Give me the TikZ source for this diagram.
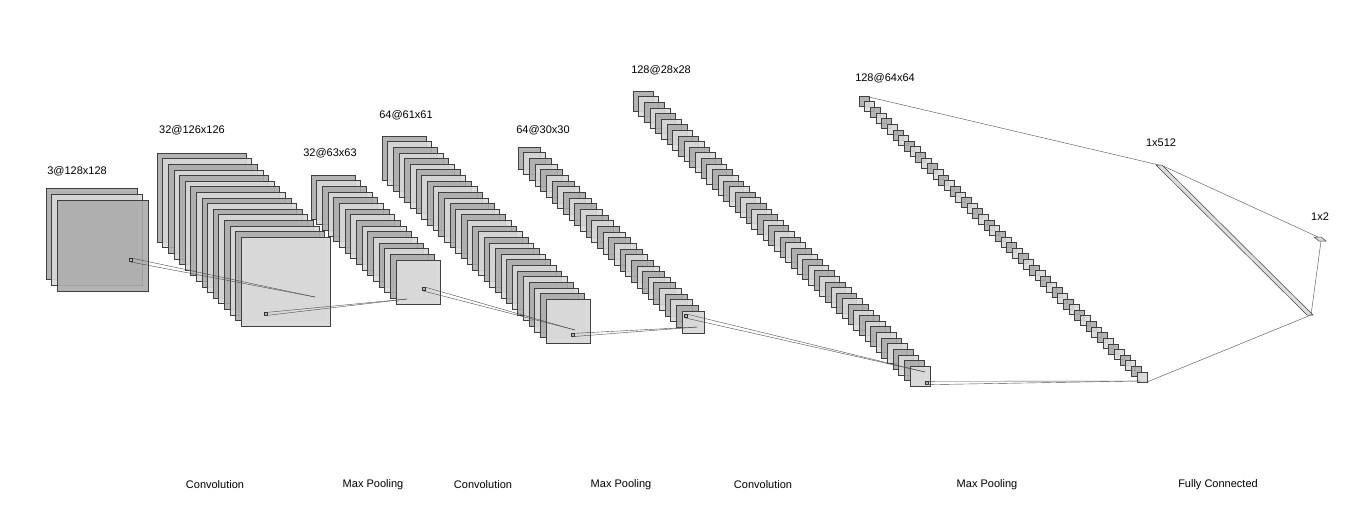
\documentclass[tikz,border=0pt]{standalone}
\usepackage{fontspec}
\setmainfont{Liberation Sans}
\begin{document}
\begin{tikzpicture}[x=1pt,y=-1pt,
  s0/.style={draw=black!75,line width=0.5pt,fill=black!33,fill opacity=0.9},
  s1/.style={draw=black!75,line width=0.5pt,fill=black!15,fill opacity=0.9},
  front/.style={draw=black!75,line width=0.5pt,fill=black!15,fill opacity=0.8},
  lab/.style={font=\fontsize{11}{13}\selectfont,inner sep=0pt},
  kern/.style={draw=black!80,line width=0.4pt,fill=black!30,minimum size=3pt,inner sep=0pt},
  conn/.style={draw=black!70,line width=0.4pt}]
\useasboundingbox (0,0) rectangle (1358,507);
% stack: x0 y0 x1 y1 n size
\newcommand\cnnstack[6]{%
  \foreach \i in {0,...,\numexpr#5-1\relax}{%
    \pgfmathtruncatemacro\c{mod(\i,2)}%
    \pgfmathsetmacro\xx{#1+\i*(#3-#1)/(#5-1)}%
    \pgfmathsetmacro\yy{#2+\i*(#4-#2)/(#5-1)}%
    \path[s\c] (\xx,\yy) rectangle ++(#6,#6);
  }}
\cnnstack{46}{188}{57}{200}{3}{91}
\cnnstack{157}{153}{241}{237}{16}{89}
\path[front] (241,237) rectangle ++(89,89);
\cnnstack{311}{175}{396}{260}{16}{44}
\path[front] (396,260) rectangle ++(44,44);
\cnnstack{382}{136}{546}{299}{30}{44}
\path[front] (546,299) rectangle ++(44,44);
\cnnstack{518}{147}{682}{311}{30}{22}
\path[front] (682,311) rectangle ++(22,22);
\cnnstack{633}{91}{910}{366}{50}{20}
\path[front] (910,366) rectangle ++(20,20);
\cnnstack{859}{96}{1137}{372}{50}{10}
\path[front] (1137,372) rectangle ++(10,10);
% dense layers
\path[s1] (1156,165) -- (1162,165) -- (1313,315) -- (1307,315) -- cycle;
\path[s1] (1314,237) -- (1321,237) -- (1326,241) -- (1319,241) -- cycle;
% kernels and connections
\node[kern] (k1) at (131,260) {};
\coordinate (p1) at (315,297);
\node[kern] (k2) at (266,314) {};
\coordinate (p2) at (407,299);
\node[kern] (k3) at (424,289) {};
\coordinate (p3) at (575,330);
\node[kern] (k4) at (573,335) {};
\coordinate (p4) at (697,327);
\node[kern] (k5) at (686,316) {};
\coordinate (p5) at (925,372);
\node[kern] (k6) at (927,383) {};
\coordinate (p6) at (1140,381);
\coordinate (t7) at (869,97);
\coordinate (b7) at (1147,382);
\coordinate (t8) at (1159,165);
\coordinate (t8r) at (1163,166);
\coordinate (b8) at (1311,315);
\coordinate (o1) at (1318,237);
\coordinate (o2) at (1321,241);
\foreach \a/\b in {k1/p1,k2/p2,k3/p3,k4/p4,k5/p5,k6/p6}{
  \draw[conn] (\a.north east) -- (\b);
  \draw[conn] (\a.south west) -- (\b);
}
\draw[conn] (t7) -- (t8);
\draw[conn] (b7) -- (b8);
\draw[conn] (t8r) -- (o1);
\draw[conn] (b8) -- (o2);
% labels
\node[lab] (l1) at (77,171) {3@128x128};
\node[lab] (l2) at (192,130) {32@126x126};
\node[lab] (l3) at (330,153) {32@63x63};
\node[lab] (l4) at (406,115) {64@61x61};
\node[lab] (l5) at (543,130) {64@30x30};
\node[lab] (l6) at (661,70) {128@28x28};
\node[lab] (l7) at (885,78) {128@64x64};
\node[lab] (l8) at (1161,143) {1x512};
\node[lab] (l9) at (1320,217) {1x2};
\node[lab] (b1) at (215,485) {Convolution};
\node[lab] (b2) at (373,485) {Max Pooling};
\node[lab] (b3) at (483,485) {Convolution};
\node[lab] (b4) at (621,485) {Max Pooling};
\node[lab] (b5) at (763,485) {Convolution};
\node[lab] (b6) at (987,485) {Max Pooling};
\node[lab] (b7) at (1218,485) {Fully Connected};
\end{tikzpicture}
\end{document}
